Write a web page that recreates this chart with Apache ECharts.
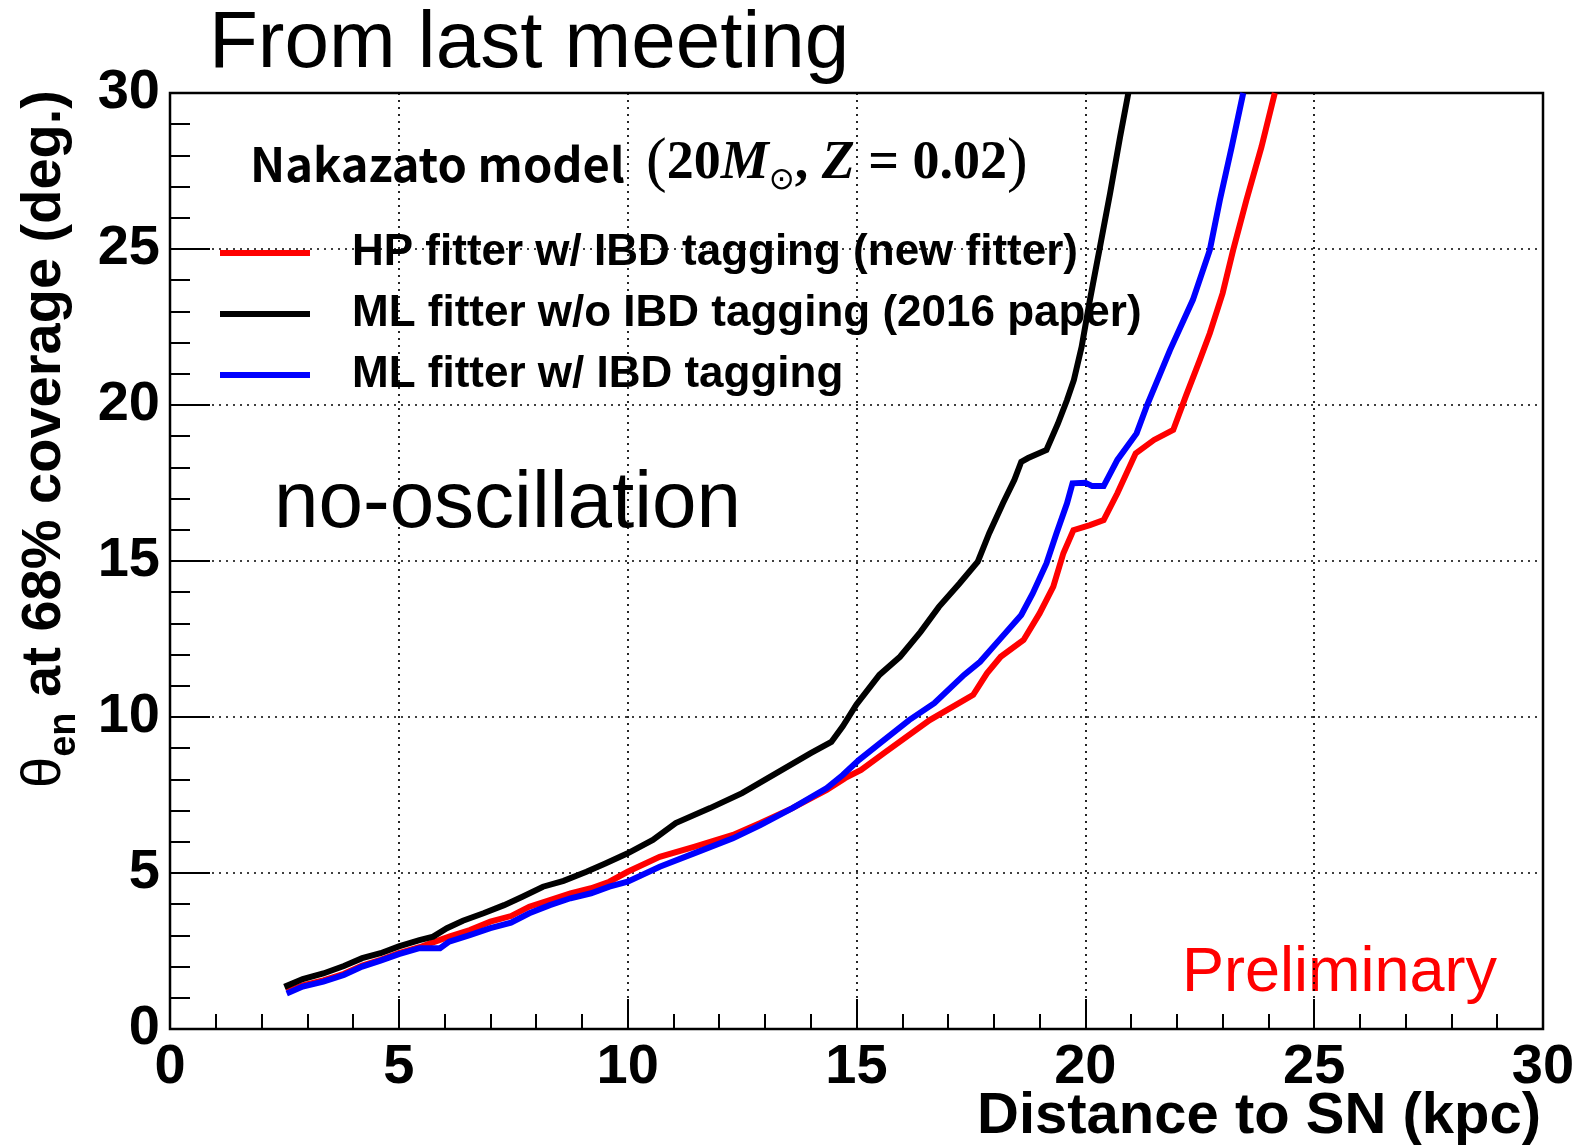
<!DOCTYPE html>
<html>
<head>
<meta charset="utf-8">
<script src="https://cdn.jsdelivr.net/npm/echarts@6/dist/echarts.min.js"></script>
<style>
  html, body { margin: 0; padding: 0; background: #fff; }
  #chart { width: 1578px; height: 1146px; }
</style>
</head>
<body>
<div id="chart"></div>
<script>
// Angular resolution (deg) at 68% coverage vs. distance to the supernova (kpc)

// HP fitter w/ IBD tagging (new fitter)
const hpDist = [2.55, 2.9, 3.35, 3.8, 4.2, 4.6, 5.0, 5.45, 5.7, 6.1, 6.55, 7.0, 7.45, 7.85, 8.3, 8.75, 9.2, 9.6, 10.0, 10.7,
  11.45, 12.3, 12.9, 13.6, 14.35, 14.75, 15.1, 15.6, 16.6, 17.55, 17.85, 18.15, 18.65, 19.0, 19.3, 19.52, 19.74, 20.1, 20.4, 20.7,
  21.1, 21.5, 21.92, 22.2, 22.5, 22.72, 23.0, 23.23, 23.52, 23.85, 24.14];
const hpTheta = [1.2, 1.4, 1.56, 1.77, 2.03, 2.22, 2.43, 2.62, 2.75, 2.96, 3.17, 3.44, 3.62, 3.92, 4.13, 4.35, 4.51, 4.72, 5.04, 5.52,
  5.84, 6.22, 6.6, 7.08, 7.66, 8.04, 8.3, 8.84, 9.9, 10.71, 11.4, 11.93, 12.47, 13.32, 14.18, 15.25, 15.99, 16.15, 16.31, 17.17,
  18.45, 18.88, 19.2, 20.3, 21.44, 22.3, 23.58, 24.97, 26.57, 28.28, 30.0];

// ML fitter w/o IBD tagging (2016 paper)
const mlNoTagDist = [2.5, 2.9, 3.35, 3.8, 4.2, 4.6, 5.0, 5.45, 5.75, 6.05, 6.4, 6.85, 7.3, 7.7, 8.15, 8.6, 9.1, 9.5, 10.0, 10.55,
  11.05, 11.8, 12.5, 13.25, 14.0, 14.45, 14.7, 15.0, 15.5, 15.95, 16.4, 16.8, 17.25, 17.65, 17.9, 18.2, 18.45, 18.6, 18.75, 19.15,
  19.4, 19.6, 19.75, 19.92, 20.1, 20.32, 20.54, 20.76, 20.94];
const mlNoTagTheta = [1.35, 1.6, 1.78, 2.02, 2.27, 2.43, 2.65, 2.85, 2.96, 3.23, 3.47, 3.71, 3.97, 4.24, 4.56, 4.75, 5.04, 5.3, 5.63, 6.06,
  6.6, 7.08, 7.56, 8.2, 8.84, 9.2, 9.7, 10.4, 11.35, 11.93, 12.73, 13.53, 14.28, 14.98, 15.89, 16.85, 17.6, 18.18, 18.3, 18.56,
  19.4, 20.16, 20.8, 21.87, 23.37, 25.07, 26.78, 28.6, 30.0];

// ML fitter w/ IBD tagging
const mlTagDist = [2.55, 2.9, 3.35, 3.8, 4.2, 4.6, 5.0, 5.45, 5.9, 6.1, 6.55, 7.0, 7.45, 7.85, 8.3, 8.75, 9.2, 9.6, 10.0, 10.7,
  11.45, 12.3, 12.9, 13.6, 14.35, 14.7, 15.05, 15.55, 16.15, 16.7, 17.35, 17.7, 18.15, 18.6, 18.85, 19.15, 19.37, 19.6, 19.72, 20.0,
  20.15, 20.4, 20.7, 21.12, 21.35, 21.85, 22.35, 22.72, 22.94, 23.2, 23.45];
const mlTagTheta = [1.14, 1.36, 1.52, 1.73, 2.0, 2.19, 2.4, 2.59, 2.59, 2.8, 3.01, 3.23, 3.41, 3.71, 3.97, 4.19, 4.35, 4.56, 4.72, 5.2,
  5.63, 6.11, 6.54, 7.08, 7.72, 8.14, 8.62, 9.2, 9.9, 10.44, 11.35, 11.77, 12.52, 13.27, 13.96, 14.92, 15.89, 16.85, 17.49, 17.51,
  17.4, 17.4, 18.24, 19.09, 20.0, 21.76, 23.37, 24.97, 26.57, 28.28, 30.0];

const seriesNames = [
  'HP fitter w/ IBD tagging (new fitter)',
  'ML fitter w/o IBD tagging (2016 paper)',
  'ML fitter w/ IBD tagging'
];
const seriesColors = ['#ff0000', '#000000', '#0000ff'];

const xRange = [0, 30];
const yRange = [0, 30];
const majorStep = 5;

const zip = (xs, ys) => xs.map((x, i) => [x, ys[i]]);
const curves = [zip(hpDist, hpTheta), zip(mlNoTagDist, mlNoTagTheta), zip(mlTagDist, mlTagTheta)];

const SANS = '"Liberation Sans", Arial, Helvetica, sans-serif';

function axisCommon(tickLen, minorLen) {
  return {
    type: 'value',
    interval: majorStep,
    axisLine: { show: true, onZero: false, lineStyle: { color: '#000', width: 2 } },
    axisTick: { show: true, inside: true, length: tickLen, lineStyle: { color: '#000', width: 2 } },
    minorTick: { show: true, splitNumber: 5, length: minorLen, lineStyle: { color: '#000', width: 2 } },
    splitLine: { show: true, lineStyle: { color: '#000', width: 1.7, type: [2, 5] } },
    axisLabel: { fontSize: 56, fontWeight: 'bold', fontFamily: SANS, color: '#000' }
  };
}

const xAxis = axisCommon(30, 15);
xAxis.min = xRange[0]; xAxis.max = xRange[1];
xAxis.axisLabel.margin = 11;

const yAxis = axisCommon(40, 20);
yAxis.min = yRange[0]; yAxis.max = yRange[1];
yAxis.axisLabel.margin = 10;

const chart = echarts.init(document.getElementById('chart'), null, { renderer: 'canvas' });

chart.setOption({
  backgroundColor: '#ffffff',
  animation: false,
  grid: { left: 170, right: 35, top: 93, bottom: 117, show: true, borderColor: '#000', borderWidth: 2.5 },
  xAxis: xAxis,
  yAxis: yAxis,
  legend: {
    orient: 'vertical',
    left: 215,
    top: 226,
    itemWidth: 90,
    itemHeight: 6,
    itemGap: 17,
    icon: 'rect',
    selectedMode: false,
    data: seriesNames,
    textStyle: { fontSize: 44, fontWeight: 'bold', fontFamily: SANS, color: '#000', padding: [0, 0, 0, 37] }
  },
  series: seriesNames.map((name, i) => ({
    name: name,
    type: 'line',
    data: curves[i],
    symbol: 'none',
    clip: true,
    color: seriesColors[i],
    lineStyle: { color: seriesColors[i], width: 6, join: 'miter' }
  })),
  graphic: [
    {
      type: 'text', x: 209, y: 45,
      style: { text: 'From last meeting', font: '80px ' + SANS, fill: '#000',
        align: 'left', textAlign: 'left', verticalAlign: 'middle', textVerticalAlign: 'middle' }
    },
    {
      type: 'text', x: 250, y: 164,
      style: {
        text: '{a|Nakazato model  }{p|(}{n|20}{i|M}{s|⊙}{n|, }{i|Z}{n| = 0.02}{p|)}',
        fill: '#000', align: 'left', textAlign: 'left', verticalAlign: 'middle', textVerticalAlign: 'middle',
        rich: {
          a: { fontFamily: '"Noto Sans CJK JP"', fontWeight: 'bold', fontSize: 47, lineHeight: 64, fill: '#000' },
          p: { fontFamily: '"Liberation Serif"', fontWeight: 'normal', fontSize: 62, lineHeight: 64, fill: '#000' },
          n: { fontFamily: '"Liberation Serif"', fontWeight: 'bold', fontSize: 54, lineHeight: 64, fill: '#000' },
          i: { fontFamily: '"Liberation Serif"', fontWeight: 'bold', fontStyle: 'italic', fontSize: 54, lineHeight: 64, fill: '#000' },
          s: { fontFamily: '"DejaVu Sans"', fontSize: 31, lineHeight: 64, verticalAlign: 'bottom', fill: '#000' }
        }
      }
    },
    {
      type: 'text', x: 274, y: 505,
      style: { text: 'no-oscillation', font: '80px ' + SANS, fill: '#000',
        align: 'left', textAlign: 'left', verticalAlign: 'middle', textVerticalAlign: 'middle' }
    },
    {
      type: 'text', x: 1182, y: 974,
      style: { text: 'Preliminary', font: '63px ' + SANS, fill: '#ff0000',
        align: 'left', textAlign: 'left', verticalAlign: 'middle', textVerticalAlign: 'middle' }
    },
    {
      type: 'text', x: 1541, y: 1117,
      style: { text: 'Distance to SN (kpc)', font: 'bold 58px ' + SANS, fill: '#000',
        align: 'right', textAlign: 'right', verticalAlign: 'middle', textVerticalAlign: 'middle' }
    },
    {
      type: 'text', x: 45, y: 90, rotation: Math.PI / 2,
      style: {
        text: '{th|θ}{sub|en}{m| at 68% coverage (deg.)}',
        fill: '#000', align: 'right', textAlign: 'right', verticalAlign: 'middle', textVerticalAlign: 'middle',
        rich: {
          th: { fontFamily: SANS, fontWeight: 'normal', fontSize: 56, lineHeight: 78, fill: '#000' },
          sub: { fontFamily: SANS, fontWeight: 'bold', fontSize: 38, lineHeight: 78, verticalAlign: 'bottom', fill: '#000' },
          m: { fontFamily: SANS, fontWeight: 'bold', fontSize: 56, lineHeight: 78, fill: '#000' }
        }
      }
    }
  ]
});
</script>
</body>
</html>
